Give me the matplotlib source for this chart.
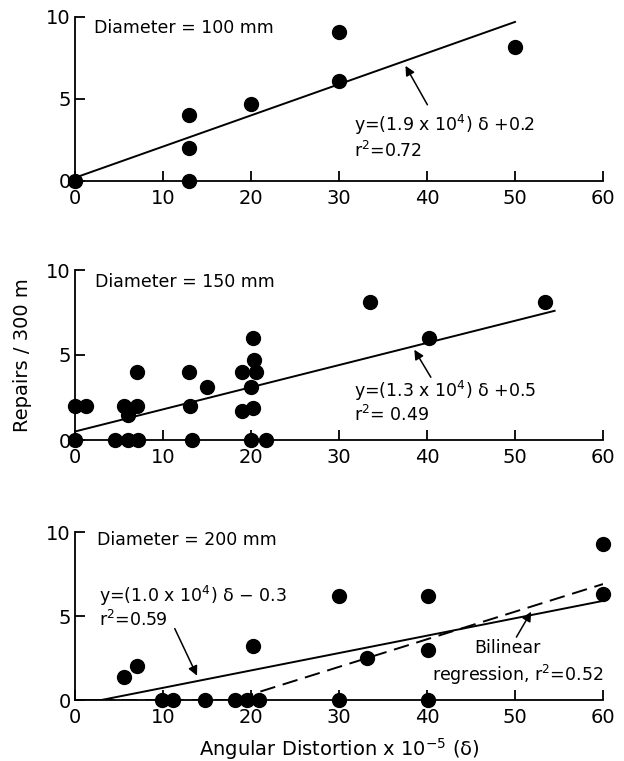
import matplotlib
matplotlib.use('Agg')
import matplotlib.pyplot as plt

# 100 mm
d100_x = [0, 13, 13, 13, 20, 30, 30, 50]
d100_y = [0, 0, 2, 4, 4.7, 6.1, 9.1, 8.2]
fit100_x = [0, 50]
fit100_y = [0.2, 9.7]

# 150 mm
d150_x = [0, 0, 1.2, 4.6, 6.0, 7.2, 5.6, 6.0, 7.1, 7.1, 13.0, 13.1, 13.3, 15.0,
          19.0, 19.0, 20.2, 20.3, 20.6, 20.0, 20.2, 20.0, 21.7, 33.5, 40.2, 53.4]
d150_y = [0, 2, 2, 0, 0, 0, 2, 1.5, 2, 4, 4, 2, 0, 3.1,
          4, 1.7, 6.0, 4.7, 4.0, 3.1, 1.9, 0, 0, 8.1, 6.0, 8.1]
fit150_x = [0, 54.5]
fit150_y = [0.5, 7.6]

# 200 mm
d200_x = [5.6, 7.0, 9.9, 11.1, 14.8, 18.2, 19.5, 20.9, 20.2, 30, 30, 33.2,
          40.1, 40.1, 40.1, 60, 60]
d200_y = [1.35, 2.0, 0, 0, 0, 0, 0, 0, 3.2, 6.2, 0, 2.5,
          6.2, 3.0, 0, 9.3, 6.3]
fit200_x = [0, 3, 60]
fit200_y = [0, 0, 5.9]
bilin_x = [0, 18, 60]
bilin_y = [0, 0, 6.9]

xticks = [0, 10, 20, 30, 40, 50, 60]
yticks = [0, 5, 10]

W, H = 624, 761
fig = plt.figure(figsize=(W / 100, H / 100), dpi=100)
plt.rcParams['font.family'] = ['DejaVu Sans']

def make_ax(y0_px, y10_px):
    left = 75 / W
    width = 528 / W
    bottom = 1 - y0_px / H
    height = (y0_px - y10_px) / H
    ax = fig.add_axes([left, bottom, width, height])
    ax.set_xlim(0, 60)
    ax.set_ylim(0, 10)
    ax.spines['top'].set_visible(False)
    ax.spines['right'].set_visible(False)
    for s in ['left', 'bottom']:
        ax.spines[s].set_linewidth(1.3)
    ax.set_xticks(xticks)
    ax.set_yticks(yticks)
    ax.tick_params(direction='in', length=7, width=1.3, labelsize=14)
    ax.tick_params(axis='x', pad=6)
    ax.tick_params(axis='y', pad=3)
    return ax

ax1 = make_ax(181, 17)
ax2 = make_ax(440, 270)
ax3 = make_ax(700, 532)

dot = dict(marker='o', ls='none', ms=10, color='black', clip_on=False, zorder=5)
arrow = dict(arrowstyle='-|>', color='black', lw=1.1, mutation_scale=14)

# panel 1
ax1.plot(fit100_x, fit100_y, color='black', lw=1.4)
ax1.plot(d100_x, d100_y, **dot)
ax1.text(2.2, 9.35, 'Diameter = 100 mm', fontsize=12.5, va='center')
ax1.annotate('', xy=(37.4, 7.17), xytext=(40.2, 4.5), arrowprops=arrow)
ax1.text(31.7, 3.4, r'y=(1.9 x 10$^4$) δ +0.2', fontsize=12.5, va='center')
ax1.text(31.7, 1.85, r'r$^2$=0.72', fontsize=12.5, va='center')

# panel 2
ax2.plot(fit150_x, fit150_y, color='black', lw=1.4)
ax2.plot(d150_x, d150_y, **dot)
ax2.text(2.3, 9.3, 'Diameter = 150 mm', fontsize=12.5, va='center')
ax2.annotate('', xy=(38.4, 5.45), xytext=(40.6, 3.55), arrowprops=arrow)
ax2.text(31.7, 2.86, r'y=(1.3 x 10$^4$) δ +0.5', fontsize=12.5, va='center')
ax2.text(31.7, 1.45, r'r$^2$= 0.49', fontsize=12.5, va='center')
ax2.set_ylabel('Repairs / 300 m', fontsize=14, labelpad=10)

# panel 3
ax3.plot(fit200_x, fit200_y, color='black', lw=1.4)
ax3.plot(bilin_x, bilin_y, color='black', lw=1.4, dashes=(8, 4))
ax3.plot(d200_x, d200_y, **dot)
ax3.text(2.5, 9.5, 'Diameter = 200 mm', fontsize=12.5, va='center')
ax3.text(2.7, 6.2, r'y=(1.0 x 10$^4$) δ $-$ 0.3', fontsize=12.5, va='center')
ax3.text(2.7, 4.75, r'r$^2$=0.59', fontsize=12.5, va='center')
ax3.annotate('', xy=(14.0, 1.3), xytext=(11.2, 4.4), arrowprops=arrow)
ax3.text(49.1, 3.1, 'Bilinear', fontsize=12.5, va='center', ha='center')
ax3.text(60, 1.5, r'regression, r$^2$=0.52', fontsize=12.5, va='center', ha='right')
ax3.annotate('', xy=(52.0, 5.4), xytext=(50.0, 3.6), arrowprops=arrow)
ax3.set_xlabel(r'Angular Distortion x 10$^{-5}$ (δ)', fontsize=14, labelpad=6)

fig.savefig('out.png', dpi=100)
